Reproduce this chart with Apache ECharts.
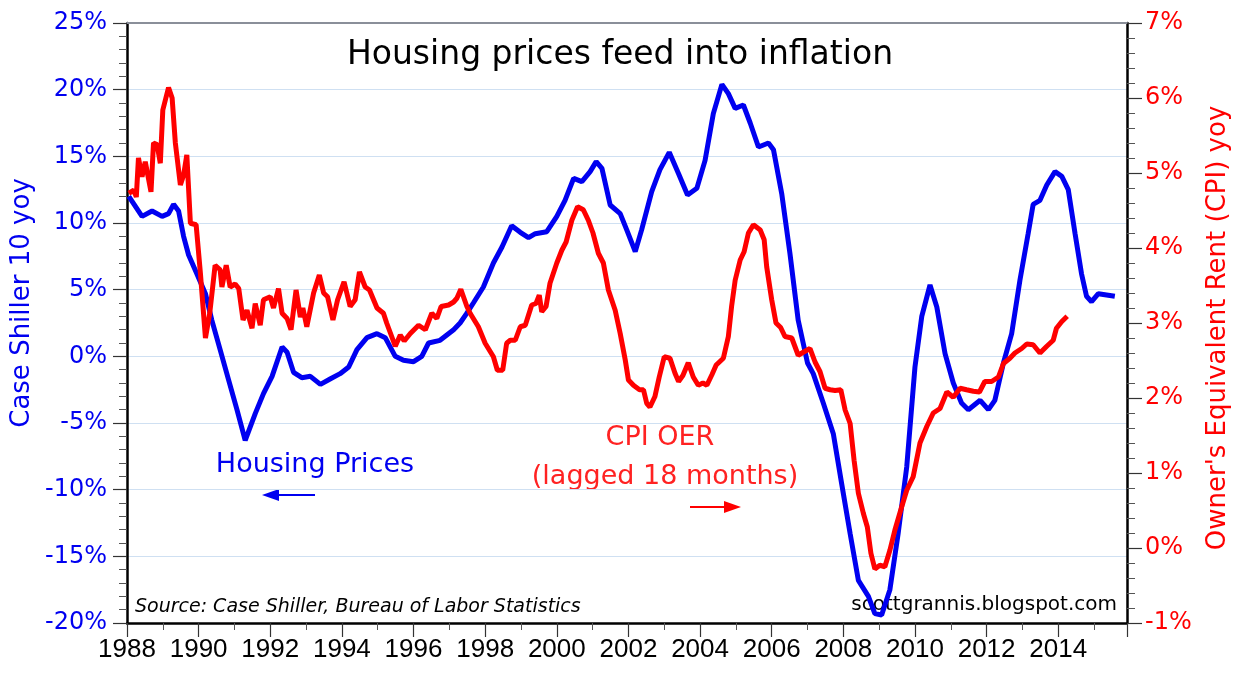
<!DOCTYPE html>
<html>
<head>
<meta charset="utf-8">
<script src="https://cdn.jsdelivr.net/npm/echarts@6/dist/echarts.min.js"></script>
<style>
  html, body { margin: 0; padding: 0; background: #fff; }
  #chart { width: 1244px; height: 676px; }
</style>
</head>
<body>
<div id="chart"></div>
<script>
// Case Shiller 10 yoy (%), left axis
const housingYears = [
  1988.05, 1988.42, 1988.70, 1988.98, 1989.16, 1989.30, 1989.44, 1989.58, 1989.72, 1989.95,
  1990.19, 1990.37, 1990.60, 1990.84, 1991.07, 1991.30, 1991.58, 1991.81, 1992.05, 1992.33,
  1992.47, 1992.65, 1992.88, 1993.12, 1993.40, 1993.67, 1993.95, 1994.19, 1994.42, 1994.70,
  1994.98, 1995.21, 1995.49, 1995.72, 1996.00, 1996.23, 1996.42, 1996.74, 1997.12, 1997.30,
  1997.48, 1997.67, 1997.95, 1998.23, 1998.47, 1998.74, 1998.98, 1999.21, 1999.40, 1999.72,
  2000.00, 2000.23, 2000.47, 2000.70, 2000.93, 2001.10, 2001.26, 2001.49, 2001.77, 2001.95,
  2002.19, 2002.37, 2002.65, 2002.88, 2003.14, 2003.40, 2003.65, 2003.91, 2004.14, 2004.37,
  2004.61, 2004.79, 2004.98, 2005.21, 2005.40, 2005.63, 2005.91, 2006.05, 2006.28, 2006.51,
  2006.74, 2007.00, 2007.16, 2007.44, 2007.72, 2007.95, 2008.19, 2008.42, 2008.70, 2008.88,
  2009.07, 2009.30, 2009.53, 2009.77, 2010.00, 2010.19, 2010.42, 2010.61, 2010.84, 2011.07,
  2011.30, 2011.49, 2011.82, 2012.05, 2012.23, 2012.47, 2012.70, 2012.93, 2013.16, 2013.30,
  2013.49, 2013.68, 2013.91, 2014.10, 2014.28, 2014.47, 2014.65, 2014.79, 2014.93, 2015.12,
  2015.35, 2015.58
];
const housingValues = [
  12.0, 10.5, 10.9, 10.5, 10.7, 11.4, 10.9, 9.0, 7.6, 6.2,
  4.7, 2.7, 0.5, -1.8, -4.0, -6.3, -4.3, -2.8, -1.5, 0.7,
  0.3, -1.2, -1.6, -1.5, -2.1, -1.7, -1.3, -0.8, 0.5, 1.4,
  1.7, 1.4, 0.0, -0.3, -0.4, 0.0, 1.0, 1.2, 2.0, 2.5,
  3.2, 4.0, 5.2, 7.0, 8.2, 9.8, 9.3, 8.9, 9.2, 9.35,
  10.5, 11.7, 13.35, 13.1, 13.85, 14.6, 14.1, 11.35, 10.7, 9.5,
  7.85, 9.5, 12.35, 14.0, 15.3, 13.7, 12.1, 12.6, 14.7, 18.2,
  20.4, 19.7, 18.6, 18.85, 17.5, 15.7, 16.0, 15.5, 12.2, 7.7,
  2.7, -0.5, -1.3, -3.5, -5.8, -9.5, -13.3, -16.8, -18.0, -19.3,
  -19.4, -17.5, -13.3, -8.3, -0.8, 3.0, 5.35, 3.7, 0.2, -2.0,
  -3.5, -4.0, -3.3, -4.0, -3.3, -0.5, 1.7, 5.7, 9.2, 11.4,
  11.7, 12.85, 13.85, 13.5, 12.5, 9.2, 6.2, 4.5, 4.1, 4.7,
  4.6, 4.5
];

// CPI owner's equivalent rent yoy (%), lagged 18 months, right axis
const oerYears = [
  1988.05, 1988.19, 1988.26, 1988.32, 1988.42, 1988.51, 1988.67, 1988.74, 1988.84, 1988.93,
  1989.00, 1989.16, 1989.26, 1989.35, 1989.49, 1989.58, 1989.67, 1989.77, 1989.93, 1990.05,
  1990.19, 1990.31, 1990.46, 1990.60, 1990.65, 1990.77, 1990.88, 1991.02, 1991.12, 1991.24,
  1991.35, 1991.49, 1991.58, 1991.72, 1991.81, 1992.00, 1992.09, 1992.23, 1992.33, 1992.47,
  1992.58, 1992.72, 1992.84, 1992.91, 1993.02, 1993.21, 1993.37, 1993.49, 1993.60, 1993.75,
  1993.88, 1994.06, 1994.23, 1994.37, 1994.49, 1994.65, 1994.77, 1994.98, 1995.16, 1995.25,
  1995.39, 1995.49, 1995.63, 1995.74, 1995.91, 1996.14, 1996.33, 1996.51, 1996.65, 1996.77,
  1996.98, 1997.12, 1997.21, 1997.32, 1997.49, 1997.58, 1997.81, 1998.00, 1998.23, 1998.34,
  1998.49, 1998.60, 1998.70, 1998.84, 1998.98, 1999.12, 1999.30, 1999.42, 1999.51, 1999.58,
  1999.70, 1999.81, 2000.00, 2000.14, 2000.26, 2000.42, 2000.58, 2000.74, 2000.88, 2001.01,
  2001.16, 2001.30, 2001.44, 2001.63, 2001.77, 2001.91, 2002.00, 2002.14, 2002.31, 2002.42,
  2002.51, 2002.60, 2002.74, 2002.86, 2003.00, 2003.16, 2003.30, 2003.40, 2003.52, 2003.67,
  2003.81, 2003.95, 2004.08, 2004.19, 2004.33, 2004.45, 2004.65, 2004.79, 2004.88, 2004.98,
  2005.12, 2005.23, 2005.35, 2005.49, 2005.68, 2005.79, 2005.86, 2006.00, 2006.12, 2006.25,
  2006.37, 2006.56, 2006.74, 2006.88, 2007.07, 2007.21, 2007.35, 2007.49, 2007.63, 2007.77,
  2007.93, 2008.05, 2008.19, 2008.30, 2008.42, 2008.56, 2008.67, 2008.77, 2008.88, 2009.02,
  2009.16, 2009.30, 2009.44, 2009.63, 2009.77, 2009.95, 2010.14, 2010.33, 2010.51, 2010.70,
  2010.89, 2011.07, 2011.26, 2011.44, 2011.63, 2011.80, 2011.95, 2012.14, 2012.33, 2012.47,
  2012.65, 2012.79, 2012.98, 2013.12, 2013.30, 2013.49, 2013.68, 2013.86, 2013.95, 2014.10,
  2014.25
];
const oerValues = [
  4.73, 4.77, 4.68, 5.2, 4.95, 5.15, 4.75, 5.4, 5.38, 5.13,
  5.84, 6.14, 6.0, 5.4, 4.84, 4.97, 5.24, 4.33, 4.31, 3.66,
  2.8, 3.13, 3.77, 3.71, 3.48, 3.77, 3.48, 3.52, 3.46, 3.04,
  3.17, 2.93, 3.26, 2.97, 3.31, 3.35, 3.2, 3.46, 3.13, 3.06,
  2.91, 3.44, 3.08, 3.2, 2.95, 3.4, 3.64, 3.4, 3.35, 3.04,
  3.31, 3.55, 3.22, 3.31, 3.68, 3.48, 3.44, 3.2, 3.13, 3.0,
  2.82, 2.69, 2.84, 2.76, 2.86, 2.97, 2.91, 3.13, 3.06, 3.22,
  3.24, 3.28, 3.33, 3.45, 3.22, 3.13, 2.95, 2.73, 2.55, 2.37,
  2.37, 2.73, 2.77, 2.77, 2.95, 2.97, 3.24, 3.26, 3.37, 3.15,
  3.22, 3.53, 3.8, 3.97, 4.08, 4.37, 4.55, 4.51, 4.37, 4.2,
  3.93, 3.8, 3.44, 3.17, 2.86, 2.51, 2.24, 2.17, 2.11, 2.11,
  1.93, 1.88, 2.02, 2.28, 2.55, 2.53, 2.33, 2.22, 2.3, 2.47,
  2.28, 2.17, 2.2, 2.17, 2.31, 2.44, 2.53, 2.82, 3.22, 3.57,
  3.84, 3.95, 4.2, 4.31, 4.24, 4.11, 3.75, 3.31, 3.0, 2.94,
  2.82, 2.8, 2.57, 2.61, 2.66, 2.48, 2.35, 2.13, 2.11, 2.1,
  2.11, 1.84, 1.66, 1.17, 0.73, 0.46, 0.28, -0.07, -0.28, -0.23,
  -0.25, -0.03, 0.24, 0.55, 0.77, 0.95, 1.4, 1.62, 1.8, 1.86,
  2.08, 2.01, 2.13, 2.11, 2.09, 2.08, 2.22, 2.22, 2.28, 2.46,
  2.53, 2.6, 2.66, 2.72, 2.71, 2.6, 2.69, 2.77, 2.93, 3.02,
  3.09
];

const xStart = 1988;
const xEnd = 2015.92;

const BLUE = '#0000f0';
const RED = '#ff0000';
const FONT = 'DejaVu Sans';

const chart = echarts.init(document.getElementById('chart'));

const option = {
  animation: false,
  backgroundColor: '#fff',
  grid: { left: 127, right: 117, top: 23, bottom: 53 },
  xAxis: [{
    type: 'value',
    min: xStart,
    max: xEnd,
    interval: 2,
    axisLine: { onZero: false, lineStyle: { color: '#000', width: 2.5 } },
    axisTick: { length: 14, lineStyle: { color: '#333', width: 1.2 } },
    minorTick: { show: true, splitNumber: 2, length: 7, lineStyle: { color: '#555', width: 1 } },
    splitLine: { show: false },
    axisLabel: {
      margin: 14,
      color: '#000',
      fontFamily: 'Liberation Sans',
      fontSize: 26,
      formatter: v => (Math.abs(v - Math.round(v)) < 1e-6 ? String(Math.round(v)) : '')
    }
  }, {
    type: 'value',
    position: 'top',
    min: xStart,
    max: xEnd,
    axisLine: { onZero: false, lineStyle: { color: '#8a8f99', width: 2 } },
    axisTick: { show: false },
    axisLabel: { show: false },
    splitLine: { show: false }
  }],
  yAxis: [{
    type: 'value',
    min: -20,
    max: 25,
    interval: 5,
    position: 'left',
    axisLine: { show: true, onZero: false, lineStyle: { color: '#000', width: 2.5 } },
    axisTick: { show: true, length: 14, lineStyle: { color: '#333', width: 1.2 } },
    minorTick: { show: true, splitNumber: 5, length: 8, lineStyle: { color: '#555', width: 1 } },
    splitLine: { show: true, lineStyle: { color: '#cfe0f2', width: 1.2 } },
    axisLabel: {
      margin: 20,
      color: BLUE,
      fontFamily: FONT,
      fontSize: 24,
      formatter: '{value}%'
    }
  }, {
    type: 'value',
    min: -1,
    max: 7,
    interval: 1,
    position: 'right',
    axisLine: { show: true, onZero: false, lineStyle: { color: '#000', width: 2.5 } },
    axisTick: { show: true, length: 15, lineStyle: { color: '#333', width: 1.2 } },
    minorTick: { show: true, splitNumber: 5, length: 8, lineStyle: { color: '#555', width: 1 } },
    splitLine: { show: false },
    axisLabel: {
      margin: 18,
      color: RED,
      fontFamily: FONT,
      fontSize: 24,
      formatter: '{value}%'
    }
  }],
  series: [{
    name: 'Housing Prices',
    type: 'line',
    yAxisIndex: 0,
    showSymbol: false,
    lineStyle: { color: BLUE, width: 5 },
    data: housingYears.map((y, i) => [y, housingValues[i]])
  }, {
    name: 'CPI OER',
    type: 'line',
    yAxisIndex: 1,
    showSymbol: false,
    lineStyle: { color: RED, width: 5 },
    data: oerYears.map((y, i) => [y, oerValues[i]])
  }],
  graphic: [
    {
      type: 'text', x: 620, y: 55,
      style: { text: 'Housing prices feed into inflation', fill: '#000', font: '33px "DejaVu Sans"', textAlign: 'center', textVerticalAlign: 'middle' }
    },
    {
      type: 'text', x: 22, y: 303, rotation: Math.PI / 2,
      style: { text: 'Case Shiller 10 yoy', fill: BLUE, font: '26px "DejaVu Sans"', textAlign: 'center', textVerticalAlign: 'middle' }
    },
    {
      type: 'text', x: 1218, y: 328, rotation: Math.PI / 2,
      style: { text: "Owner's Equivalent Rent (CPI) yoy", fill: RED, font: '26px "DejaVu Sans"', textAlign: 'center', textVerticalAlign: 'middle' }
    },
    {
      type: 'text', x: 315, y: 465,
      style: { text: 'Housing Prices', fill: BLUE, font: '27px "DejaVu Sans"', textAlign: 'center', textVerticalAlign: 'middle' }
    },
    {
      type: 'line', shape: { x1: 275, y1: 495, x2: 315, y2: 495 },
      style: { stroke: BLUE, lineWidth: 2 }
    },
    {
      type: 'polygon', shape: { points: [[262, 495], [279, 489], [279, 501]] },
      style: { fill: BLUE }
    },
    {
      type: 'text', x: 660, y: 438,
      style: { text: 'CPI OER', fill: '#f22', font: '27px "DejaVu Sans"', textAlign: 'center', textVerticalAlign: 'middle' }
    },
    {
      type: 'text', x: 665, y: 477,
      style: { text: '(lagged 18 months)', fill: '#f22', font: '27px "DejaVu Sans"', textAlign: 'center', textVerticalAlign: 'middle' }
    },
    {
      type: 'line', shape: { x1: 690, y1: 507, x2: 728, y2: 507 },
      style: { stroke: RED, lineWidth: 2 }
    },
    {
      type: 'polygon', shape: { points: [[741, 507], [724, 501], [724, 513]] },
      style: { fill: RED }
    },
    {
      type: 'text', x: 135, y: 607,
      style: { text: 'Source: Case Shiller, Bureau of Labor Statistics', fill: '#000', font: 'italic 19px "DejaVu Sans"', textAlign: 'left', textVerticalAlign: 'middle' }
    },
    {
      type: 'text', x: 1117, y: 605,
      style: { text: 'scottgrannis.blogspot.com', fill: '#000', font: '20px "DejaVu Sans"', textAlign: 'right', textVerticalAlign: 'middle' }
    }
  ]
};

chart.setOption(option);
</script>
</body>
</html>
